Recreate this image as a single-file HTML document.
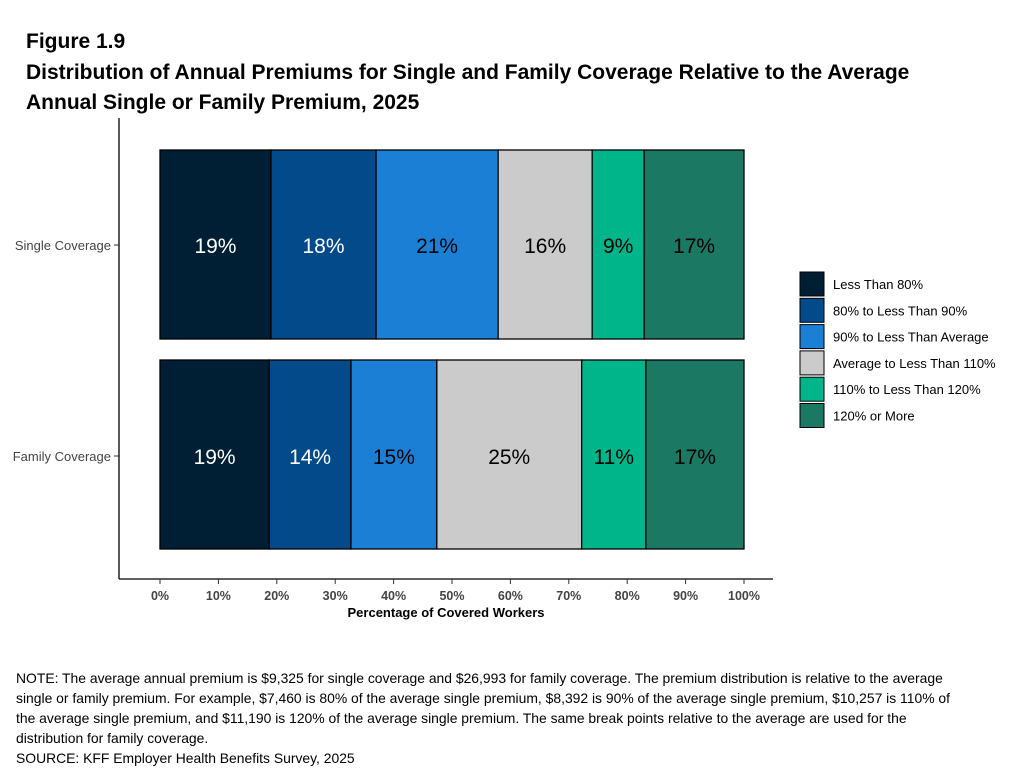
<!DOCTYPE html>
<html><head><meta charset="utf-8"><style>
body{margin:0;background:#fff;font-family:"Liberation Sans",Arial,sans-serif;}
#wrap{position:relative;width:1023px;height:770px;overflow:hidden;}
.t{position:absolute;left:26px;font-weight:bold;font-size:21px;color:#000;}
#note{position:absolute;left:16px;top:668px;width:964px;font-size:13.9px;line-height:20px;color:#000;}
</style></head><body>
<div id="wrap">
<div class="t" style="top:30px">Figure 1.9</div>
<div class="t" style="top:61px">Distribution of Annual Premiums for Single and Family Coverage Relative to the Average</div>
<div class="t" style="top:91px">Annual Single or Family Premium, 2025</div>
<svg id="chart" width="1023" height="770" style="position:absolute;left:0;top:0"></svg>
<div id="note">NOTE: The average annual premium is $9,325 for single coverage and $26,993 for family coverage. The premium distribution is relative to the average<br>single or family premium. For example, $7,460 is 80% of the average single premium, $8,392 is 90% of the average single premium, $10,257 is 110% of<br>the average single premium, and $11,190 is 120% of the average single premium. The same break points relative to the average are used for the<br>distribution for family coverage.<br>SOURCE: KFF Employer Health Benefits Survey, 2025</div>
</div>
<script>
const categories = ["Single Coverage","Family Coverage"];
const seriesNames = ["Less Than 80%","80% to Less Than 90%","90% to Less Than Average","Average to Less Than 110%","110% to Less Than 120%","120% or More"];
const singleValues = [19.0,18.0,20.9,16.1,8.9,17.1];
const familyValues = [18.7,14.0,14.7,24.8,11.0,16.8];
const singleLabels = ["19%","18%","21%","16%","9%","17%"];
const familyLabels = ["19%","14%","15%","25%","11%","17%"];
const tickValues = [0,10,20,30,40,50,60,70,80,90,100];
const colors = ["#001f35","#034a8b","#1c7fd6","#cbcbcb","#00b589","#1b7863"];
const textColors = ["#fff","#fff","#000","#000","#000","#000"];
const NS="http://www.w3.org/2000/svg";
const svg=document.getElementById('chart');
function x(v){return 160+v*5.84;}
const bands=[{y:150,h:189,cy:245},{y:360,h:189,cy:456}];
function mk(tag,attrs,text){const e=document.createElementNS(NS,tag);for(const k in attrs)e.setAttribute(k,attrs[k]);if(text!==undefined)e.textContent=text;svg.appendChild(e);return e;}
const allVals=[singleValues,familyValues], allLabels=[singleLabels,familyLabels];
categories.forEach((c,i)=>{
  let acc=0;
  allVals[i].forEach((v,j)=>{
    const r=mk('rect',{x:x(acc),y:bands[i].y,width:x(acc+v)-x(acc),height:bands[i].h,fill:colors[j],stroke:'#000','stroke-width':1.3});
    
    
    const t=mk('text',{x:(x(acc)+x(acc+v))/2,y:bands[i].cy+8,'text-anchor':'middle','font-size':21,fill:textColors[j]},allLabels[i][j]);
    
    
    acc+=v;
  });
  const yl=mk('text',{x:111,y:bands[i].cy+5,'text-anchor':'end','font-size':13,fill:'#444'},c);
  
  
  mk('line',{x1:114,x2:119,y1:bands[i].cy,y2:bands[i].cy,stroke:'#333'});
});
mk('line',{x1:119,x2:119,y1:118,y2:579,stroke:'#000','stroke-width':1.3});
mk('line',{x1:119,x2:773,y1:579,y2:579,stroke:'#000','stroke-width':1.3});
tickValues.forEach(v=>{
  mk('line',{x1:x(v),x2:x(v),y1:579,y2:584,stroke:'#333'});
  const t=mk('text',{x:x(v),y:600,'text-anchor':'middle','font-size':12.5,'font-weight':'bold',fill:'#444'},v+'%');
  
  
});
const xt=mk('text',{x:446,y:617,'text-anchor':'middle','font-size':13,'font-weight':'bold',fill:'#000'},'Percentage of Covered Workers');


seriesNames.forEach((n,j)=>{
  const y=272+j*26.3;
  const r=mk('rect',{x:800,y:y,width:24,height:24,fill:colors[j],stroke:'#000','stroke-width':1});
  
  
  const t=mk('text',{x:833,y:y+17,'font-size':13,fill:'#000'},n);
  
  
});
</script>
</body></html>
